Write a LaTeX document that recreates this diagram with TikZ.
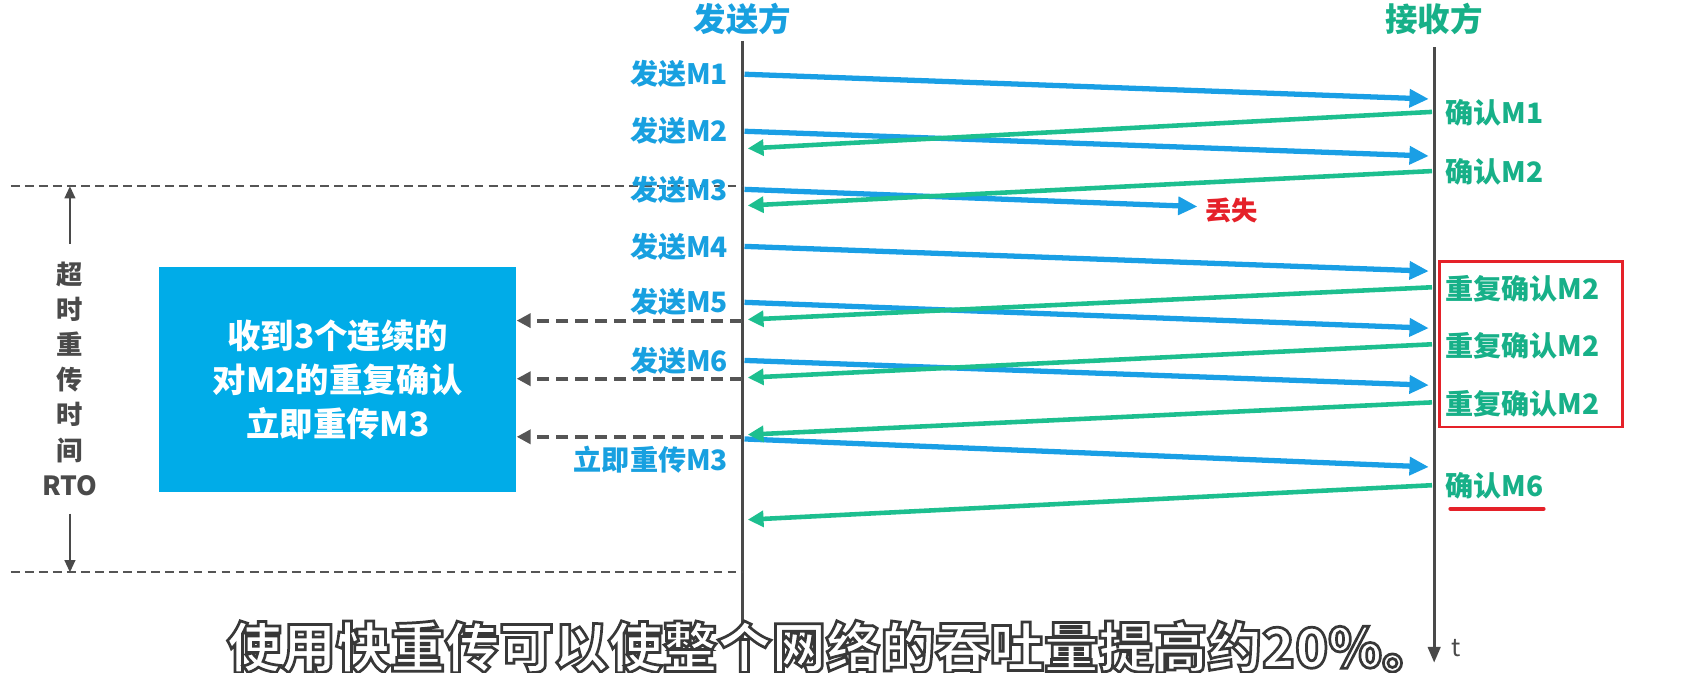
\documentclass[tikz,border=0pt]{standalone}
\usepackage{fontspec}
\setmainfont{Noto Sans CJK SC}
\newfontfamily\subfont[FakeBold=5,BoldFeatures={FakeBold=5}]{Noto Sans CJK SC}
\usetikzlibrary{arrows.meta,positioning}
\definecolor{sendblue}{HTML}{1A9FE5}
\definecolor{ackgreen}{HTML}{1DBF8F}
\definecolor{labelblue}{HTML}{18A0E0}
\definecolor{labelgreen}{HTML}{17B088}
\definecolor{boxblue}{HTML}{00ACE8}
\definecolor{lostred}{HTML}{E52129}
\definecolor{linegray}{HTML}{4A4A4A}
\definecolor{dashgray}{HTML}{555555}

\begin{document}
\begin{tikzpicture}[x=0.2152mm,y=-0.2152mm,
    lifeline/.style={draw=linegray,line width=1.8pt},
    sendarrow/.style={draw=sendblue,line width=3pt,-{Triangle[length=11pt,width=10pt]}},
    ackarrow/.style={draw=ackgreen,line width=2.6pt,-{Triangle[length=9pt,width=9pt]}},
    backarrow/.style={draw=dashgray,line width=2.2pt,dash pattern=on 7pt off 4pt,-{Triangle[length=8pt,width=8pt]}},
    rtoarrow/.style={draw=linegray,line width=1.4pt,-{Triangle[length=7pt,width=6pt]}},
    sendlabel/.style={text=labelblue,font=\bfseries\fontsize{16}{19}\selectfont,inner sep=0pt,anchor=east},
    acklabel/.style={text=labelgreen,font=\bfseries\fontsize{16}{19}\selectfont,inner sep=0pt,anchor=west},
    party/.style={font=\bfseries\fontsize{18.5}{22}\selectfont,inner sep=0pt}
  ]
  \useasboundingbox (0,0) rectangle (1568,625);

  \node[party,text=labelblue] (sender) at (690,18) {发送方};
  \node[party,text=labelgreen] (receiver) at (1333,18) {接收方};
  \coordinate (stop) at (690,38);
  \coordinate (sbot) at (690,606);
  \coordinate (rtop) at (1333,44);
  \coordinate (rbot) at (1333,616);
  \draw[lifeline] (stop) -- (sbot);
  \draw[lifeline,-{Triangle[length=9pt,width=7pt]}] (rtop) -- (rbot);
  \node[text=linegray,font=\fontsize{14}{16}\selectfont,inner sep=0pt] (time) at (1353,602) {t};

  \coordinate (dtop) at (10,173);
  \coordinate (dbot) at (10,532);
  \draw[dashgray,line width=1pt,dash pattern=on 5pt off 3pt] (dtop) -- (dtop -| stop);
  \draw[dashgray,line width=1pt,dash pattern=on 5pt off 3pt] (dbot) -- (dbot -| stop);

  \foreach \i/\y/\z in {1/69/92,2/122/145,4/229/252,5/281/305,6/335/358}{
    \coordinate (s\i) at (692,\y);
    \coordinate (r\i) at (1328,\z);
    \node[sendlabel] (sl\i) at (677,\y) {发送M\i};
    \draw[sendarrow] (s\i) -- (r\i);
  }
  \coordinate (s3) at (692,176);
  \coordinate (lost) at (1113,192);
  \node[sendlabel] (sl3) at (677,176) {发送M3};
  \node[text=lostred,font=\bfseries\fontsize{15}{18}\selectfont,inner sep=0pt,anchor=west] (lostlabel) at (1120,196) {丢失};
  \draw[sendarrow] (s3) -- (lost);
  \coordinate (s7) at (692,408);
  \coordinate (r7) at (1328,434);
  \node[sendlabel] (sl7) at (677,427) {立即重传M3};
  \draw[sendarrow] (s7) -- (r7);

  \foreach \i/\y/\z/\t in {1/104/138/确认M1,2/159/191/确认M2,3/267/297/重复确认M2,4/320/351/重复确认M2,5/374/404/重复确认M2,6/451/483/确认M6}{
    \coordinate (ra\i) at (1331,\y);
    \coordinate (sa\i) at (695,\z);
    \node[acklabel] (al\i) at (1343,\y+1) {\t};
    \draw[ackarrow] (ra\i) -- (sa\i);
  }
  \draw[lostred,line width=1.5pt] (1338,243) rectangle (1508,397);
  \draw[lostred,line width=2.2pt,line cap=round] (al6.south west) ++(5,8) coordinate (ul) -- (ul -| al6.south east);

  \node[fill=boxblue,text=white,align=center,minimum width=71.4mm,minimum height=45mm,
    font=\bfseries\fontsize{19}{25}\selectfont] (fastbox) at (314,353)
    {收到3个连续的\\对M2的重复确认\\立即重传M3};
  \foreach \i/\y in {1/298,2/352,3/406}{
    \coordinate (dk\i) at (690,\y);
    \draw[backarrow] (dk\i) -- (dk\i -| fastbox.east);
  }

  \node[text=linegray,align=center,font=\bfseries\fontsize{15}{20}\selectfont,inner sep=2pt] (rto) at (65,352)
    {超\\时\\重\\传\\时\\间\\RTO};
  \draw[rtoarrow] ([yshift=8pt]rto.north) -- (rto.north |- dtop);
  \draw[rtoarrow] ([yshift=-8pt]rto.south) -- (rto.south |- dbot);

  \node[text=white,font=\subfont\bfseries\fontsize{31}{36}\selectfont,inner sep=0pt] (subtitle) at (773,601)
    {\special{pdf:code 0.22 0.22 0.22 RG}使用快重传可以使整个网络的吞吐量提高约20\%。};
\end{tikzpicture}
\end{document}
